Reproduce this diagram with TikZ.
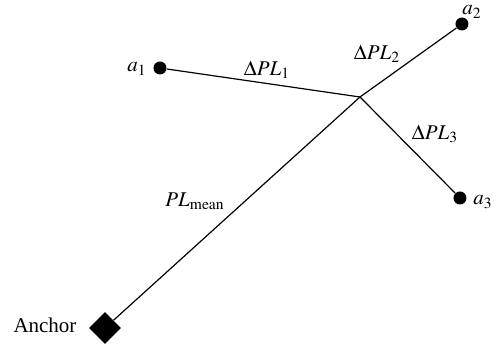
\documentclass[tikz,border=0pt]{standalone}
\usepackage{mathptmx}
\usepackage{fontspec}
\setmainfont{Liberation Serif}
\usetikzlibrary{shapes.geometric}

\begin{document}
\begin{tikzpicture}[x=0.5pt, y=-0.5pt]
\tikzstyle{sensor}=[circle, fill=black, inner sep=0pt, minimum size=6.5pt]
\tikzstyle{anchorbox}=[diamond, aspect=1, fill=black, inner sep=0pt, minimum size=16pt]
\tikzstyle{lbl}=[black, font=\fontsize{10.5}{12}\selectfont, inner sep=0pt]
\tikzstyle{link}=[line width=0.6pt]

\useasboundingbox (0, 0) rectangle (495, 347);

% Anchor and junction
\node at (105, 328) [anchorbox] (anchor) {};
\coordinate (junc) at (360, 97);

% Sensors
\node at (160, 68) [sensor] (a_1) {};
\node at (462, 24) [sensor] (a_2) {};
\node at (460, 198) [sensor] (a_3) {};

% Links
\draw [link] (anchor) to (junc);
\foreach \x in {1,...,3}
\draw [link] (a_\x) to (junc);

% Text
\node at (45, 325) [lbl] (anchor_t) {Anchor};
\node at (137, 69) [lbl] (a_1t) {$a_1$};
\node at (472, 12) [lbl] (a_2t) {$a_2$};
\node at (483, 202) [lbl] (a_3t) {$a_3$};
\node at (267, 70) [lbl] (dpl_1) {$\Delta PL_1$};
\node at (377, 54) [lbl] (dpl_2) {$\Delta PL_2$};
\node at (435, 134) [lbl] (dpl_3) {$\Delta PL_3$};
\node at (195, 201) [lbl] (pl_mean) {$PL_{\mathrm{mean}}$};
\end{tikzpicture}
\end{document}
